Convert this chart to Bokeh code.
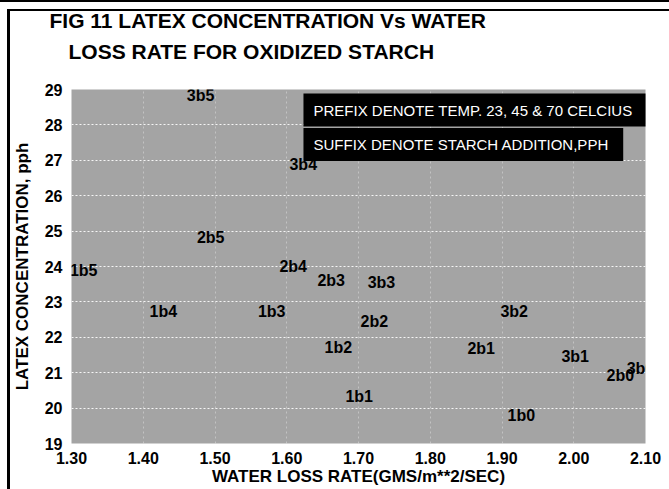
from bokeh.plotting import figure
from bokeh.models import ColumnDataSource, Label, FixedTicker, Title
from bokeh.core.properties import value
from bokeh.embed import file_html
from bokeh.resources import INLINE

# ---- data ----
title_lines = ["FIG 11  LATEX CONCENTRATION Vs WATER", "LOSS RATE FOR OXIDIZED STARCH"]
x_label = "WATER LOSS RATE(GMS/m**2/SEC)"
y_label = "LATEX CONCENTRATION, pph"
notes = ["PREFIX  DENOTE  TEMP. 23, 45 & 70 CELCIUS", "SUFFIX  DENOTE STARCH ADDITION,PPH"]

point_labels = ["3b5", "3b4", "2b5", "1b5", "2b4", "2b3", "3b3", "1b4", "1b3",
                "2b2", "3b2", "1b2", "2b1", "3b1", "2b0", "3b0", "1b1", "1b0"]
water_loss = [1.480, 1.623, 1.494, 1.317, 1.609, 1.662, 1.732, 1.428, 1.579,
              1.722, 1.917, 1.672, 1.871, 2.002, 2.065, 2.093, 1.701, 1.927]
latex_conc = [28.83, 26.88, 24.82, 23.90, 23.99, 23.61, 23.56, 22.72, 22.72,
              22.44, 22.72, 21.72, 21.69, 21.46, 20.92, 21.12, 20.32, 19.80]

x_ticks = [1.3, 1.4, 1.5, 1.6, 1.7, 1.8, 1.9, 2.0, 2.1]
x_tick_labels = ["1.30", "1.40", "1.50", "1.60", "1.70", "1.80", "1.90", "2.00", "2.10"]
y_ticks = [19, 20, 21, 22, 23, 24, 25, 26, 27, 28, 29]

# note boxes: top-left corner in data space
note_x = [1.6233, 1.6233]
note_y = [28.885, 27.91]

FONT = "Liberation Sans"

page_frame_css = {
    "background-color": "white",
    "background-image": ("linear-gradient(#000,#000), linear-gradient(#000,#000), "
                         "linear-gradient(#000,#000)"),
    "background-size": "100% 2px, 100% 2px, 3px 100%",
    "background-position": "0px 0px, 8px 9px, 7px 9px",
    "background-repeat": "no-repeat",
}

p = figure(width=669, height=489, x_range=(1.3, 2.1), y_range=(19, 29),
           output_backend="svg", toolbar_location=None,
           min_border_left=71, min_border_right=24, min_border_top=0, min_border_bottom=46,
           styles=page_frame_css)

p.background_fill_color = "#a4a4a4"
p.border_fill_color = None
p.outline_line_color = None

# titles: p.above[0] sits nearest the frame, the plot title outermost
p.title.text = title_lines[0]
p.title.align = "left"
p.title.offset = -22
p.title.standoff = 12
p.title.text_font = FONT
p.title.text_font_style = "bold"
p.title.text_font_size = "21px"
p.title.text_color = "black"
# blank (white) spacer between the second title line and the plot area
p.add_layout(Title(text=".", text_font_size="10px", text_color="white", standoff=17), "above")
p.add_layout(Title(text=title_lines[1], align="left", offset=-3, standoff=0,
                   text_font=FONT, text_font_style="bold", text_font_size="21px",
                   text_color="black"), "above")

# grid
p.ygrid.ticker = FixedTicker(ticks=y_ticks)
p.xgrid.ticker = FixedTicker(ticks=x_ticks)
p.ygrid.grid_line_color = "white"
p.ygrid.grid_line_dash = "2 2"
p.ygrid.grid_line_alpha = 0.9
p.xgrid.grid_line_color = "white"
p.xgrid.grid_line_dash = "2 3"
p.xgrid.grid_line_alpha = 0.35

# axes
for ax in (p.xaxis[0], p.yaxis[0]):
    ax.axis_line_color = None
    ax.major_tick_line_color = None
    ax.minor_tick_line_color = None
    ax.major_tick_out = 0
    ax.major_tick_in = 0
    ax.major_label_text_font = FONT
    ax.major_label_text_font_style = "bold"
    ax.major_label_text_font_size = "16px"
    ax.major_label_text_color = "black"
    ax.axis_label_text_font = FONT
    ax.axis_label_text_font_style = "bold"
    ax.axis_label_text_font_size = "17px"
    ax.axis_label_text_color = "black"

p.xaxis.ticker = FixedTicker(ticks=x_ticks)
p.xaxis.major_label_overrides = {t: s for t, s in zip(x_ticks, x_tick_labels)}
p.xaxis.major_label_standoff = 8
p.xaxis.axis_label = x_label
p.xaxis.axis_label_standoff = 0

p.yaxis.ticker = FixedTicker(ticks=y_ticks)
p.yaxis.major_label_standoff = 9
p.yaxis.axis_label = y_label
p.yaxis.axis_label_standoff = 10

# point labels
src = ColumnDataSource(dict(x=water_loss, y=latex_conc, t=point_labels))
p.text(x="x", y="y", text="t", source=src, text_align="center", text_baseline="middle",
       text_font=value(FONT), text_font_style="bold", text_font_size="16px", text_color="black")

# notes (black boxes)
for tx, ty, s in zip(note_x, note_y, notes):
    p.add_layout(Label(x=tx, y=ty, text=s, text_align="left", text_baseline="top",
                       text_font=FONT, text_font_size="15px", text_color="white",
                       background_fill_color="black", background_fill_alpha=1.0,
                       padding=dict(left=10, right=10, top=8, bottom=8)))

open("out.html", "w").write(file_html(p, INLINE))
